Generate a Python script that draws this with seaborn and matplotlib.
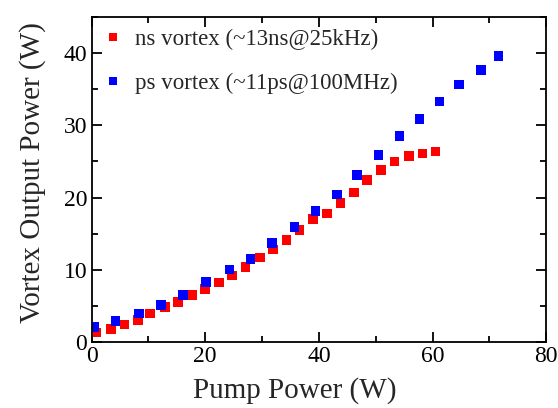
import numpy as np
import pandas as pd
import matplotlib
matplotlib.use("Agg")
import matplotlib.pyplot as plt
import seaborn as sns
from matplotlib.ticker import MultipleLocator

# ns vortex (~13ns@25kHz)
ns_pump = [0.9, 3.4, 5.8, 8.2, 10.3, 12.9, 15.2, 17.7, 20.0, 22.4, 24.7, 27.1, 29.6,
           31.9, 34.3, 36.6, 39.0, 41.4, 43.8, 46.2, 48.5, 50.9, 53.3, 55.8, 58.2, 60.5]
ns_power = [1.3, 1.8, 2.4, 3.0, 3.9, 4.8, 5.5, 6.5, 7.3, 8.2, 9.2, 10.4, 11.7,
            12.8, 14.1, 15.5, 17.0, 17.8, 19.2, 20.7, 22.4, 23.8, 25.0, 25.8, 26.1, 26.4]

# ps vortex (~11ps@100MHz)
ps_pump = [0.4, 4.2, 8.3, 12.2, 16.1, 20.1, 24.3, 28.0, 31.7, 35.7,
           39.4, 43.2, 46.7, 50.5, 54.2, 57.7, 61.2, 64.7, 68.5, 71.6]
ps_power = [2.0, 2.9, 3.9, 5.1, 6.5, 8.3, 10.0, 11.5, 13.7, 15.9,
            18.1, 20.4, 23.1, 25.9, 28.5, 30.9, 33.3, 35.7, 37.7, 39.6]

ns_label = "ns vortex (~13ns@25kHz)"
ps_label = "ps vortex (~11ps@100MHz)"

df = pd.concat([
    pd.DataFrame({"pump": ns_pump, "power": ns_power, "series": ns_label}),
    pd.DataFrame({"pump": ps_pump, "power": ps_power, "series": ps_label}),
])

sns.set_style("ticks")
plt.rcParams['font.family'] = ['Liberation Serif', 'DejaVu Serif']

fig = plt.figure(figsize=(5.58, 4.08), dpi=100)
ax = fig.add_axes([0.164, 0.1625, 0.815, 0.795])

sns.scatterplot(data=df, x="pump", y="power", hue="series",
                palette={ns_label: "#ff0000", ps_label: "#0000ff"},
                marker="s", s=48, linewidth=0, ax=ax)

ax.set_xlim(0, 80)
ax.set_ylim(0, 45)
ax.xaxis.set_major_locator(MultipleLocator(20))
ax.xaxis.set_minor_locator(MultipleLocator(10))
ax.yaxis.set_major_locator(MultipleLocator(10))
ax.yaxis.set_minor_locator(MultipleLocator(5))
ax.tick_params(which="both", direction="in", top=True, right=True,
               width=1.3, labelsize=17, colors="black")
ax.tick_params(which="major", length=7, pad=3)
ax.tick_params(which="minor", length=4)
for sp in ax.spines.values():
    sp.set_linewidth(1.3)
    sp.set_color("black")

ax.set_xlabel("Pump Power (W)", fontsize=21, labelpad=7)
ax.set_ylabel("Vortex Output Power (W)", fontsize=21, labelpad=13)
ax.xaxis.label.set_x(0.447)
ax.yaxis.label.set_y(0.52)

leg = ax.legend(loc="upper left", frameon=False, fontsize=16.5, markerscale=0.85,
                handletextpad=0.55, labelspacing=1.0, borderaxespad=0.1,
                handlelength=0.85)

fig.savefig("out.png", dpi=100)
